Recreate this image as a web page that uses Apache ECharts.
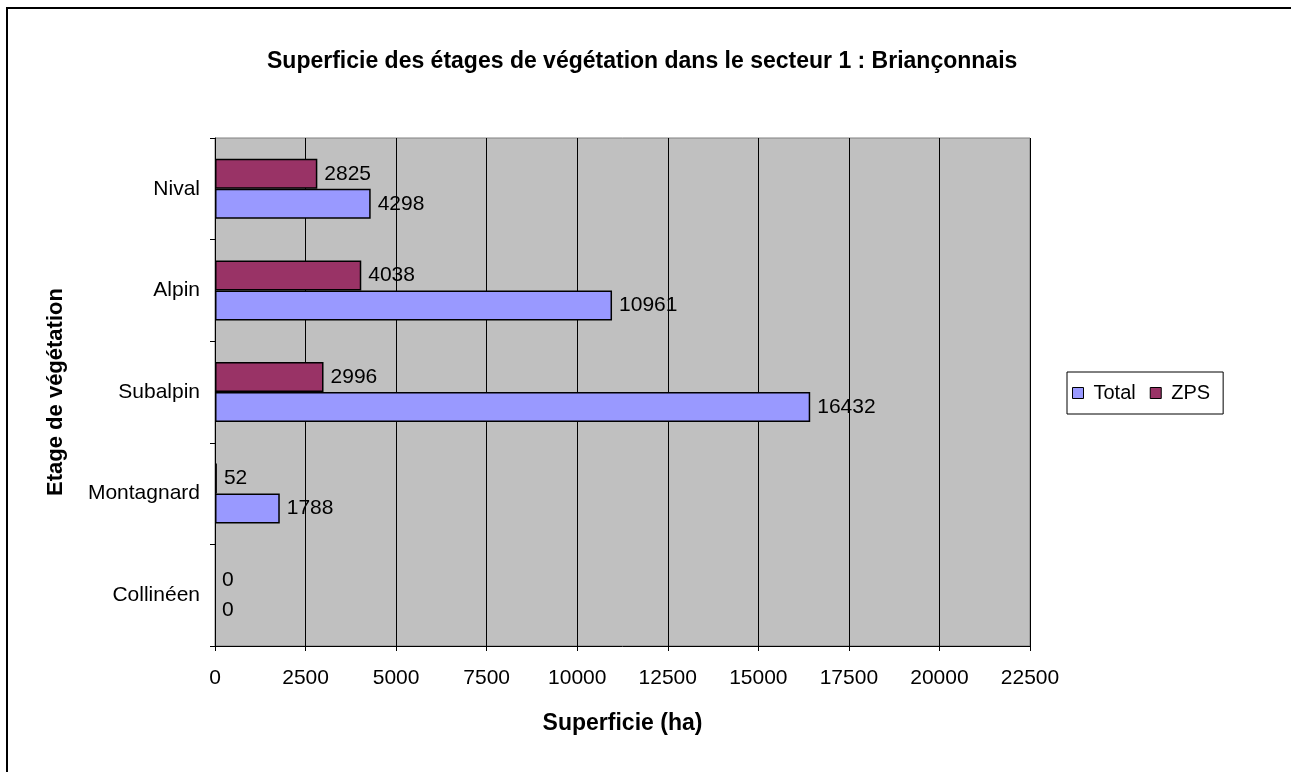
<!DOCTYPE html>
<html>
<head>
<meta charset="utf-8">
<script src="https://cdn.jsdelivr.net/npm/echarts@6/dist/echarts.min.js"></script>
<style>
  html, body { margin: 0; padding: 0; background: #fff; }
  #chart { width: 1291px; height: 772px; }
</style>
</head>
<body>
<div id="chart"></div>
<script>
// étages de végétation, du bas vers le haut
const categories = ['Collinéen', 'Montagnard', 'Subalpin', 'Alpin', 'Nival']
const totalValues = [0, 1788, 16432, 10961, 4298]
const zpsValues = [0, 52, 2996, 4038, 2825]
const xTicks = { min: 0, max: 22500, step: 2500 }

const font = 'Liberation Sans, Arial, sans-serif'

const chart = echarts.init(document.getElementById('chart'))

const labelStyle = {
  show: true,
  position: 'right',
  distance: 7,
  color: '#000',
  fontSize: 21,
  fontFamily: font
}

// pas de contour pour les barres vides
function barData(values) {
  return values.map(v => (v === 0 ? { value: v, itemStyle: { borderWidth: 0 } } : v))
}

chart.setOption({
  backgroundColor: '#fff',
  animation: false,
  textStyle: { fontFamily: font },
  graphic: [
    {
      type: 'rect',
      shape: { x: 7, y: 8, width: 1400, height: 900 },
      style: { fill: 'none', stroke: '#000', lineWidth: 2 },
      z: 100
    }
  ],
  title: {
    text: 'Superficie des étages de végétation dans le secteur 1 : Briançonnais',
    left: 262,
    top: 45,
    textStyle: { fontSize: 23, fontWeight: 'bold', color: '#000', fontFamily: font }
  },
  legend: {
    left: 1067,
    top: 372,
    orient: 'horizontal',
    data: ['Total', 'ZPS'],
    icon: 'rect',
    itemWidth: 11,
    itemHeight: 11,
    itemGap: 14,
    padding: [11, 13, 11, 5],
    borderColor: '#000',
    borderWidth: 1,
    backgroundColor: '#fff',
    itemStyle: { borderColor: '#000', borderWidth: 1 },
    textStyle: { fontSize: 20, color: '#000', fontFamily: font, padding: [0, 0, 0, 5] }
  },
  grid: {
    left: 215,
    right: 261,
    top: 138,
    bottom: 126,
    show: true,
    backgroundColor: '#c0c0c0',
    borderColor: '#808080',
    borderWidth: 1
  },
  xAxis: {
    type: 'value',
    min: xTicks.min,
    max: xTicks.max,
    interval: xTicks.step,
    name: 'Superficie (ha)',
    nameLocation: 'middle',
    nameGap: 66,
    nameTextStyle: { fontSize: 23, fontWeight: 'bold', color: '#000', fontFamily: font },
    axisLine: { show: true, lineStyle: { color: '#000', width: 1 } },
    axisTick: { show: true, inside: false, length: 5, lineStyle: { color: '#000' } },
    axisLabel: { fontSize: 21, color: '#000', margin: 22, fontFamily: font, formatter: v => String(v) },
    splitLine: { show: true, lineStyle: { color: '#000', width: 1 } }
  },
  yAxis: {
    type: 'category',
    data: categories,
    name: 'Etage de végétation',
    nameLocation: 'middle',
    nameGap: 148,
    nameRotate: 90,
    nameTextStyle: { fontSize: 22, fontWeight: 'bold', color: '#000', fontFamily: font },
    axisLine: { show: true, lineStyle: { color: '#000', width: 1 } },
    axisTick: { show: true, inside: false, length: 5, lineStyle: { color: '#000' } },
    axisLabel: { fontSize: 21, color: '#000', margin: 15, fontFamily: font },
    splitLine: { show: false }
  },
  series: [
    {
      name: 'ZPS',
      type: 'bar',
      data: barData(zpsValues),
      barWidth: 30,
      barGap: '0%',
      itemStyle: { color: '#993366', borderColor: '#000', borderWidth: 1.5 },
      label: labelStyle
    },
    {
      name: 'Total',
      type: 'bar',
      data: barData(totalValues),
      barWidth: 30,
      barGap: '0%',
      itemStyle: { color: '#9999ff', borderColor: '#000', borderWidth: 1.5 },
      label: labelStyle
    }
  ]
})
</script>
</body>
</html>
